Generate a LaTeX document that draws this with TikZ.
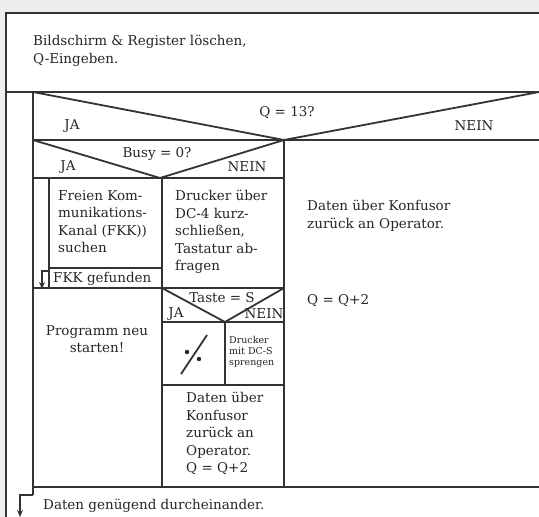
\documentclass[tikz,border=0pt]{standalone}
\usepackage{fontspec}
\setmainfont{DejaVu Serif}
\usetikzlibrary{arrows.meta}
\begin{document}
\begin{tikzpicture}[x=1pt,y=-1pt,>={Stealth[length=7pt,width=6pt]},
  ln/.style={draw=black!80, line width=1.8pt},
  txt/.style={inner sep=0pt, text=black!85, align=left, font=\fontsize{13.5}{17.6}\selectfont},
  lbl/.style={inner sep=0pt, text=black!85, font=\fontsize{13.5}{15}\selectfont},
  tiny/.style={inner sep=0pt, text=black!85, align=left, font=\fontsize{9.5}{11}\selectfont}]
\useasboundingbox (0,0) rectangle (539,517);
\fill[gray!13] (0,0) rectangle (539,517);
\fill[white] (6,13) rectangle (539,517);
% outer frame and first block
\draw[ln] (539,13) -- (6,13) -- (6,517);
\draw[ln] (6,92) -- (539,92);
\node[txt, anchor=west] (init) at (33,51) {Bildschirm \& Register löschen,\\Q-Eingeben.};
% Q = 13?
\draw[ln] (33,92) -- (33,495);
\draw[ln] (33,92) -- (284,140) -- (539,92);
\draw[ln] (33,140) -- (539,140);
\node[lbl] (q13) at (287,113) {Q = 13?};
\node[lbl] (qja) at (72,126) {JA};
\node[lbl] (qnein) at (474,126) {NEIN};
% Busy = 0?
\draw[ln] (284,140) -- (284,487);
\draw[ln] (33,140) -- (160,178) -- (284,140);
\draw[ln] (33,178) -- (284,178);
\node[lbl] (busy) at (157,154) {Busy = 0?};
\node[lbl] (bja) at (68,167) {JA};
\node[lbl] (bnein) at (247,167) {NEIN};
% FKK loop
\draw[ln] (162,178) -- (162,487);
\draw[ln] (49,178) -- (49,288);
\draw[ln] (49,268) -- (162,268);
\draw[ln] (33,288) -- (284,288);
\node[txt, anchor=north west] (fkk) at (58,190) {Freien Kom-\\munikations-\\Kanal (FKK))\\suchen};
\node[lbl, anchor=west] (found) at (53,279) {FKK gefunden};
\draw[ln, ->] (49,271) -- (42,271) -- (42,289);
\node[txt, anchor=north west] (dc4) at (175,190) {Drucker über\\DC-4 kurz-\\schließen,\\Tastatur ab-\\fragen};
% Taste = S
\draw[ln] (162,288) -- (225,322) -- (284,288);
\draw[ln] (162,322) -- (284,322);
\draw[ln] (225,322) -- (225,385);
\draw[ln] (162,385) -- (284,385);
\node[lbl] (taste) at (222,298) {Taste = S};
\node[lbl] (tja) at (176,314) {JA};
\node[lbl] (tnein) at (264,314) {NEIN};
\draw[ln] (181,374) -- (207,335);
\fill[black!85] (187,352) circle (2.2pt) (199,359) circle (2.2pt);
\node[tiny, anchor=north west] (dcs) at (229,336) {Drucker\\mit DC-S\\sprengen};
\node[txt, anchor=north west] (back1) at (186,392) {Daten über\\Konfusor\\zurück an\\Operator.\\Q = Q+2};
\node[txt, align=center] (restart) at (97,339) {Programm neu\\starten!};
% NEIN branch
\node[txt, anchor=west] (back2) at (307,216) {Daten über Konfusor\\zurück an Operator.};
\node[lbl, anchor=west] (inc) at (307,301) {Q = Q+2};
% outer loop end
\draw[ln] (33,487) -- (539,487);
\draw[ln, ->] (33,495) -- (20,495) -- (20,517);
\node[lbl, anchor=west] (enough) at (43,506) {Daten genügend durcheinander.};
\end{tikzpicture}
\end{document}
